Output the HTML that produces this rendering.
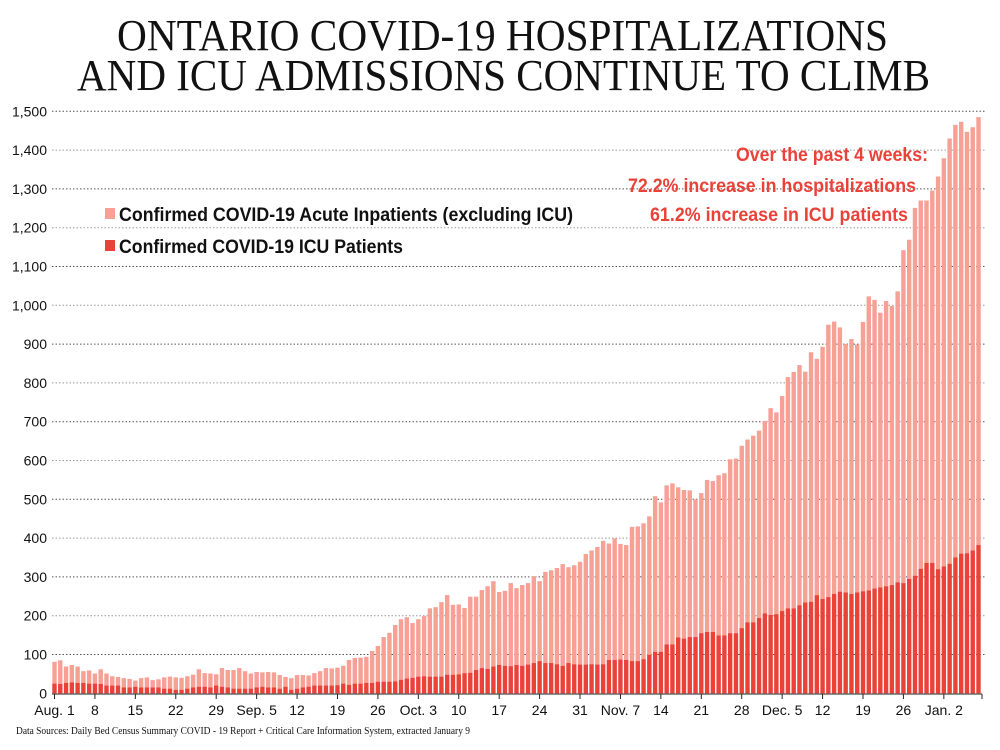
<!DOCTYPE html>
<html><head><meta charset="utf-8"><style>
html,body{margin:0;padding:0;background:#fff;width:1000px;height:750px;overflow:hidden}
svg{display:block}
</style></head><body>
<svg id="chart" width="1000" height="750" xmlns="http://www.w3.org/2000/svg">
<g font-family="Liberation Serif, serif" fill="#111" font-size="44">
<text x="117" y="50" textLength="771" lengthAdjust="spacingAndGlyphs">ONTARIO COVID-19 HOSPITALIZATIONS</text>
<text x="77" y="90" textLength="853" lengthAdjust="spacingAndGlyphs">AND ICU ADMISSIONS CONTINUE TO CLIMB</text>
</g>
<g id="grid"></g>
<g id="bars"></g>
<g id="axes"></g>
<g font-family="Liberation Sans, sans-serif" font-weight="bold" font-size="19" fill="#111">
<rect x="105" y="208" width="10" height="11" fill="#f7a095"/>
<text x="119" y="221" textLength="454" lengthAdjust="spacingAndGlyphs">Confirmed COVID-19 Acute Inpatients (excluding ICU)</text>
<rect x="105" y="240" width="10" height="11" fill="#ea4139"/>
<text x="119" y="253" textLength="284" lengthAdjust="spacingAndGlyphs">Confirmed COVID-19 ICU Patients</text>
</g>
<g font-family="Liberation Sans, sans-serif" font-weight="bold" font-size="19" fill="#ea4139" text-anchor="end">
<text x="928" y="161" textLength="192" lengthAdjust="spacingAndGlyphs">Over the past 4 weeks:</text>
<text x="916" y="192" textLength="288" lengthAdjust="spacingAndGlyphs">72.2% increase in hospitalizations</text>
<text x="908" y="221" textLength="258" lengthAdjust="spacingAndGlyphs">61.2% increase in ICU patients</text>
</g>
<text x="16" y="734" font-family="Liberation Serif, serif" font-size="10" fill="#111" textLength="454" lengthAdjust="spacingAndGlyphs">Data Sources: Daily Bed Census Summary COVID - 19 Report + Critical Care Information System, extracted January 9</text>
</svg>
<script>
const totals = [81,85,69,73,69,57,59,51,62,51,44,42,39,37,33,39,41,34,36,41,43,41,40,44,48,62,52,51,49,65,60,60,65,57,51,55,54,55,54,47,42,39,47,47,46,52,57,65,64,
66,71,86,91,92,94,109,122,145,156,176,191,196,181,191,199,219,222,235,253,228,229,220,249,249,266,276,289,261,264,284,271,279,284,302,289,313,317,323,333,325,330,339,359,368,377,393,386,399,385,382,429,430,438,456,508,492,
536,541,531,524,523,500,516,550,547,562,567,603,605,638,654,664,677,702,735,724,766,815,828,846,829,879,862,893,950,958,943,900,913,899,957,1023,1014,981,1011,998,1036,1142,1169,1251,1270,1270,1296,1332,1379,1430,1465,1473,1447,1459,1485];
const icu = [25,24,27,28,27,27,25,25,24,20,20,20,15,15,17,15,15,15,15,12,12,9,9,12,15,17,17,15,20,17,15,12,12,12,12,15,17,15,15,12,17,9,12,15,17,20,20,20,20,
21,25,22,25,25,27,27,30,30,30,31,35,38,40,43,44,43,43,43,48,48,49,52,53,60,65,63,69,73,71,70,73,71,74,78,83,78,78,75,71,78,75,74,74,75,74,75,86,86,87,86,83,83,88,99,107,107,
126,126,144,141,145,145,155,158,158,149,149,155,155,168,183,183,194,206,202,204,212,219,219,227,234,236,253,243,248,256,262,260,256,260,263,265,270,273,276,279,286,284,295,303,321,336,336,320,327,334,350,360,361,368,382];
const yTicks = [0,100,200,300,400,500,600,700,800,900,1000,1100,1200,1300,1400,1500];
const yTickLabels = ["0","100","200","300","400","500","600","700","800","900","1,000","1,100","1,200","1,300","1,400","1,500"];
const xTickIdx = [0,7,14,21,28,35,42,49,56,63,70,77,84,91,98,105,112,119,126,133,140,147,154];
const xTickLabels = ["Aug. 1","8","15","22","29","Sep. 5","12","19","26","Oct. 3","10","17","24","31","Nov. 7","14","21","28","Dec. 5","12","19","26","Jan. 2"];

const NS = "http://www.w3.org/2000/svg";
function y(v){ return 693.3 - v*0.388; }
function x(i){ return 54.5 + i*5.775; }
function mk(tag, attrs, parent){ const e=document.createElementNS(NS,tag); for(const k in attrs) e.setAttribute(k,attrs[k]); parent.appendChild(e); return e; }

const grid=document.getElementById('grid'), bars=document.getElementById('bars'), axes=document.getElementById('axes');
yTicks.forEach((t,k)=>{
  if(t>0){
    const l=mk('line',{x1:52,x2:985,y1:y(t),y2:y(t),stroke:(t%200===0?'#999':'#555'),'stroke-width':1,'stroke-dasharray':'1.5,2'},grid);
    
    
  }
  const tx=mk('text',{x:47,y:y(t)+5,'text-anchor':'end','font-family':'Liberation Sans, sans-serif','font-size':14,fill:'#111'},axes);
  tx.textContent=yTickLabels[k];
  
  
});
totals.forEach((v,i)=>{
  const c=icu[i];
  const r1=mk('rect',{x:x(i)-2.2,y:y(v),width:4.4,height:y(c)-y(v),fill:'#f7a095'},bars);
  
  
  const r2=mk('rect',{x:x(i)-2.2,y:y(c),width:4.4,height:693.3-y(c),fill:'#ea4139'},bars);
  
  
});
const base=mk('line',{x1:52,x2:982,y1:694,y2:694,stroke:'#222','stroke-width':1},axes);


xTickIdx.forEach((i,k)=>{
  const tk=mk('line',{x1:x(i),x2:x(i),y1:694,y2:699,stroke:'#222','stroke-width':1},axes);
  
  
  const tx=mk('text',{x:x(i),y:715,'text-anchor':'middle','font-family':'Liberation Sans, sans-serif','font-size':14,fill:'#111'},axes);
  tx.textContent=xTickLabels[k];
  
  
});
const endTk=mk('line',{x1:982,x2:982,y1:694,y2:699,stroke:'#222','stroke-width':1},axes);


</script>
</body></html>
